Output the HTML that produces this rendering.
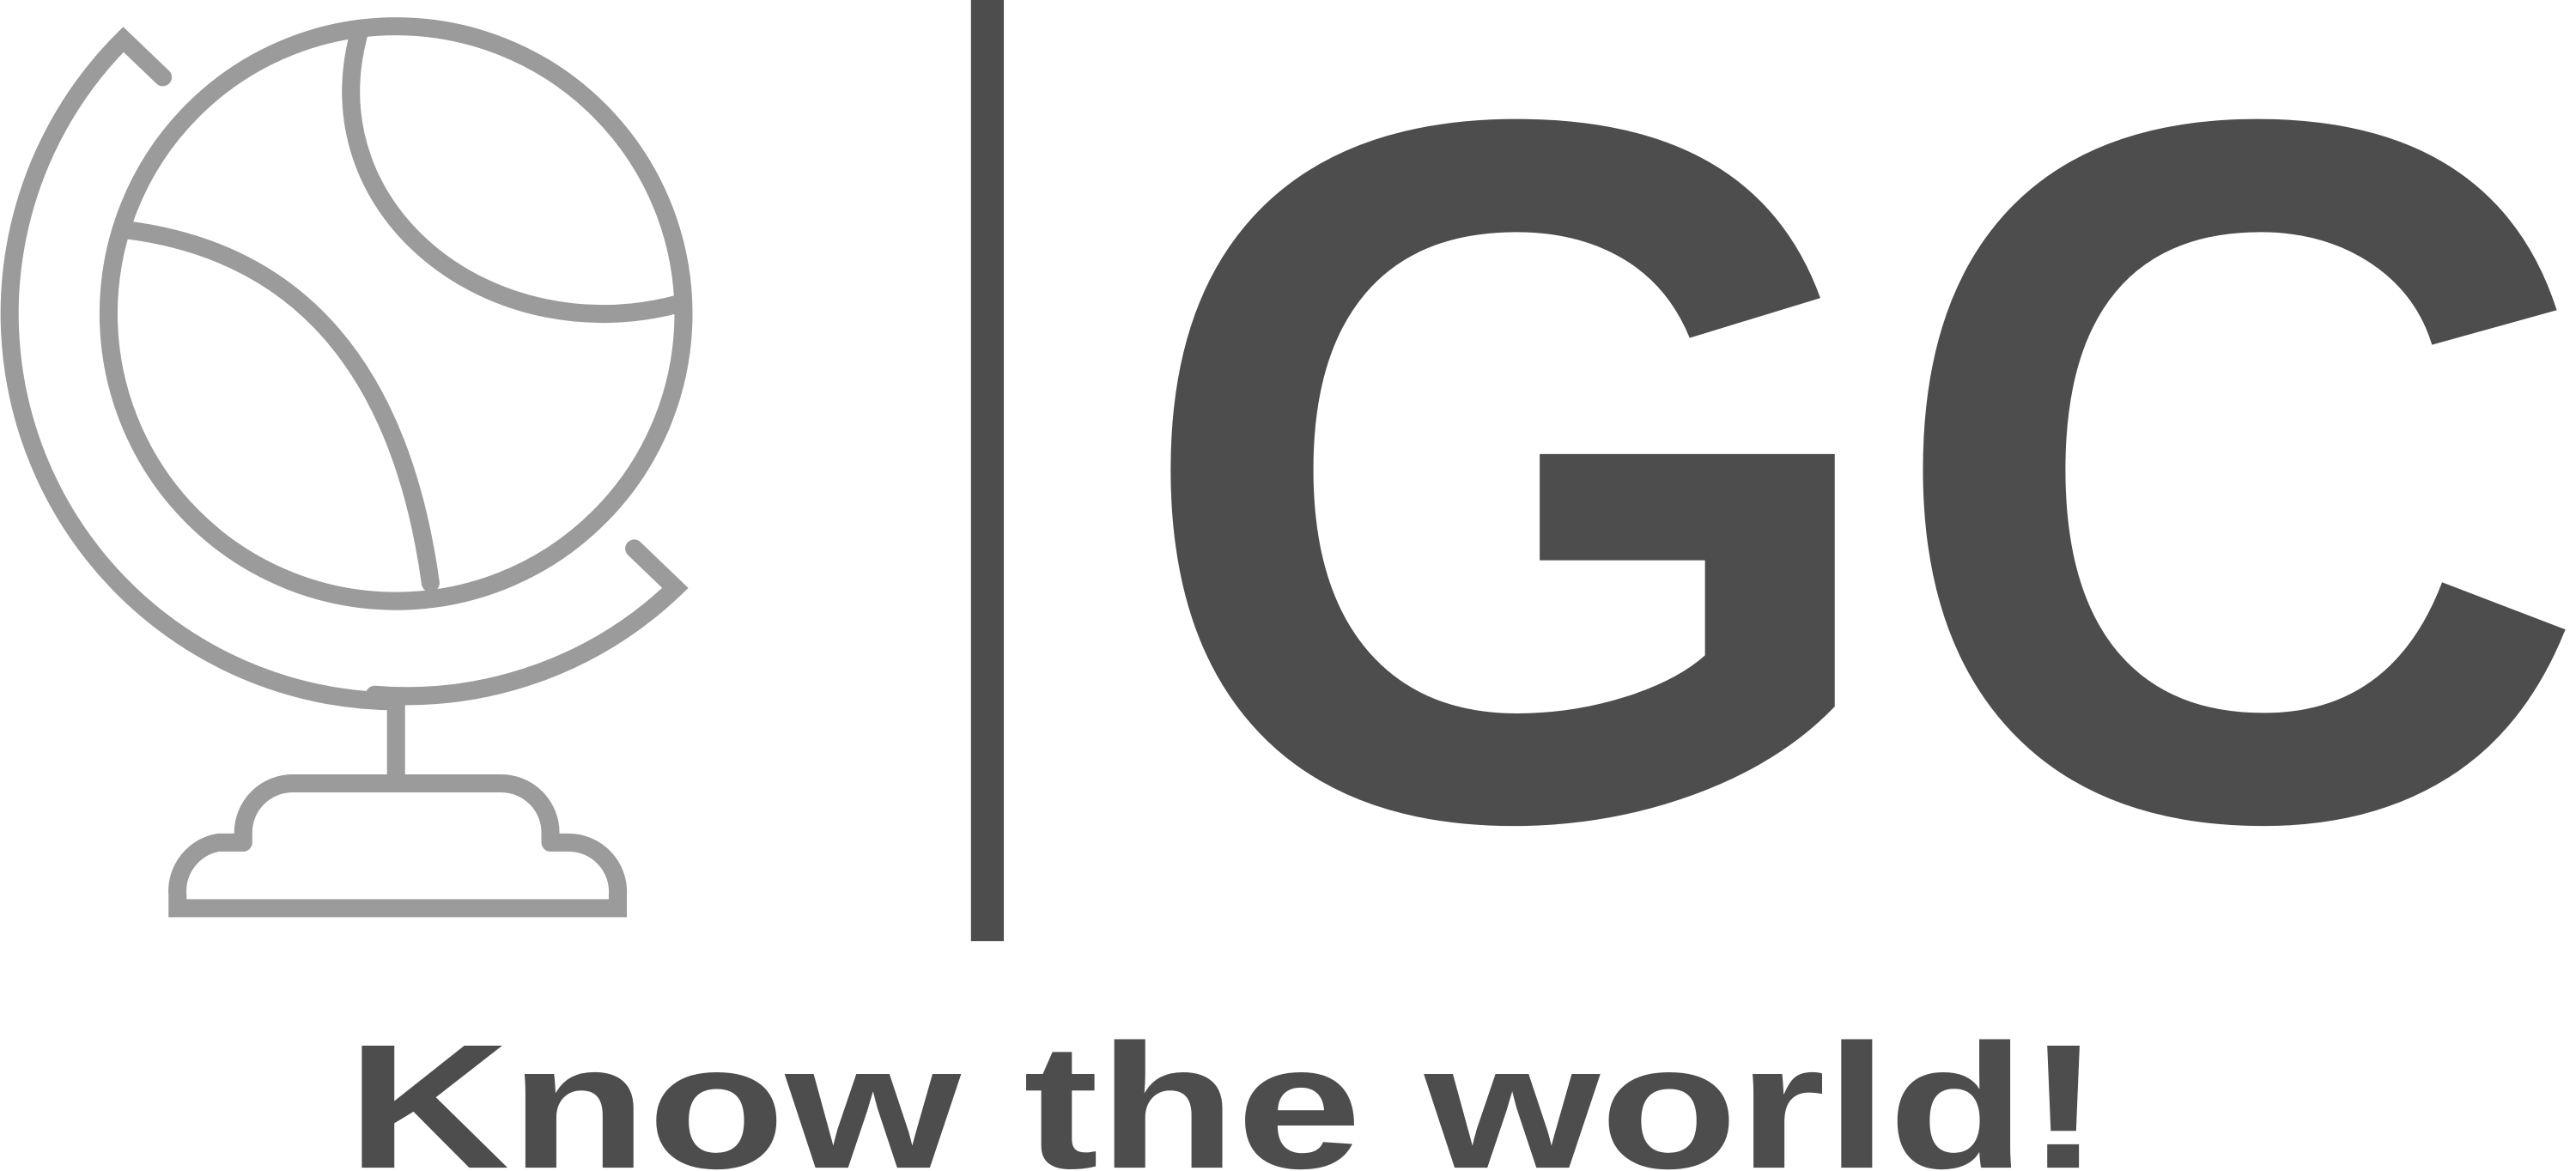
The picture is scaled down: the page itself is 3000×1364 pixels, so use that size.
<!DOCTYPE html>
<html><head><meta charset="utf-8"><style>
html,body{margin:0;padding:0;background:#fff;}
svg{display:block;}
</style></head><body>
<svg width="3000" height="1364" viewBox="0 0 1568 713" xmlns="http://www.w3.org/2000/svg">
<rect width="1568" height="713" fill="#fff"/>
<g fill="none" stroke="#9b9b9b" stroke-width="11" stroke-linecap="round">
  <circle cx="241" cy="191" r="175"/>
  <path d="M77,140 Q235,160 262,355"/>
  <path d="M218,22 C190,130 300,215 413,185"/>
  <path d="M99,47 L75,24 A236,236 0 0 0 241,427"/>
  <path d="M386,334 L411,358 A236,236 0 0 1 228,423"/>
  <path stroke-linecap="butt" d="M241,427 L241,476"/>
  <path d="M148,513 L148,507 A30,30 0 0 1 178,477 L305,477 A30,30 0 0 1 335,507 L335,513"/>
  <path stroke-linecap="butt" d="M148,513 L133,513 A30,30 0 0 0 108,545 L108,553 L376,553 L376,545 A30,30 0 0 0 346,513 L335,513"/>
</g>
<rect x="591" y="0" width="20" height="573" fill="#4d4d4d"/>
<text x="688" y="497" font-family="Liberation Sans, sans-serif" font-weight="bold" font-size="608" fill="#4d4d4d" textLength="466" lengthAdjust="spacingAndGlyphs">G</text>
<text x="1146" y="497" font-family="Liberation Sans, sans-serif" font-weight="bold" font-size="608" fill="#4d4d4d" textLength="432" lengthAdjust="spacingAndGlyphs">C</text>
<text x="211" y="711" font-family="Liberation Sans, sans-serif" font-weight="bold" font-size="108" fill="#4d4d4d" textLength="1068" lengthAdjust="spacingAndGlyphs">Know the world!</text>
</svg>
</body></html>
